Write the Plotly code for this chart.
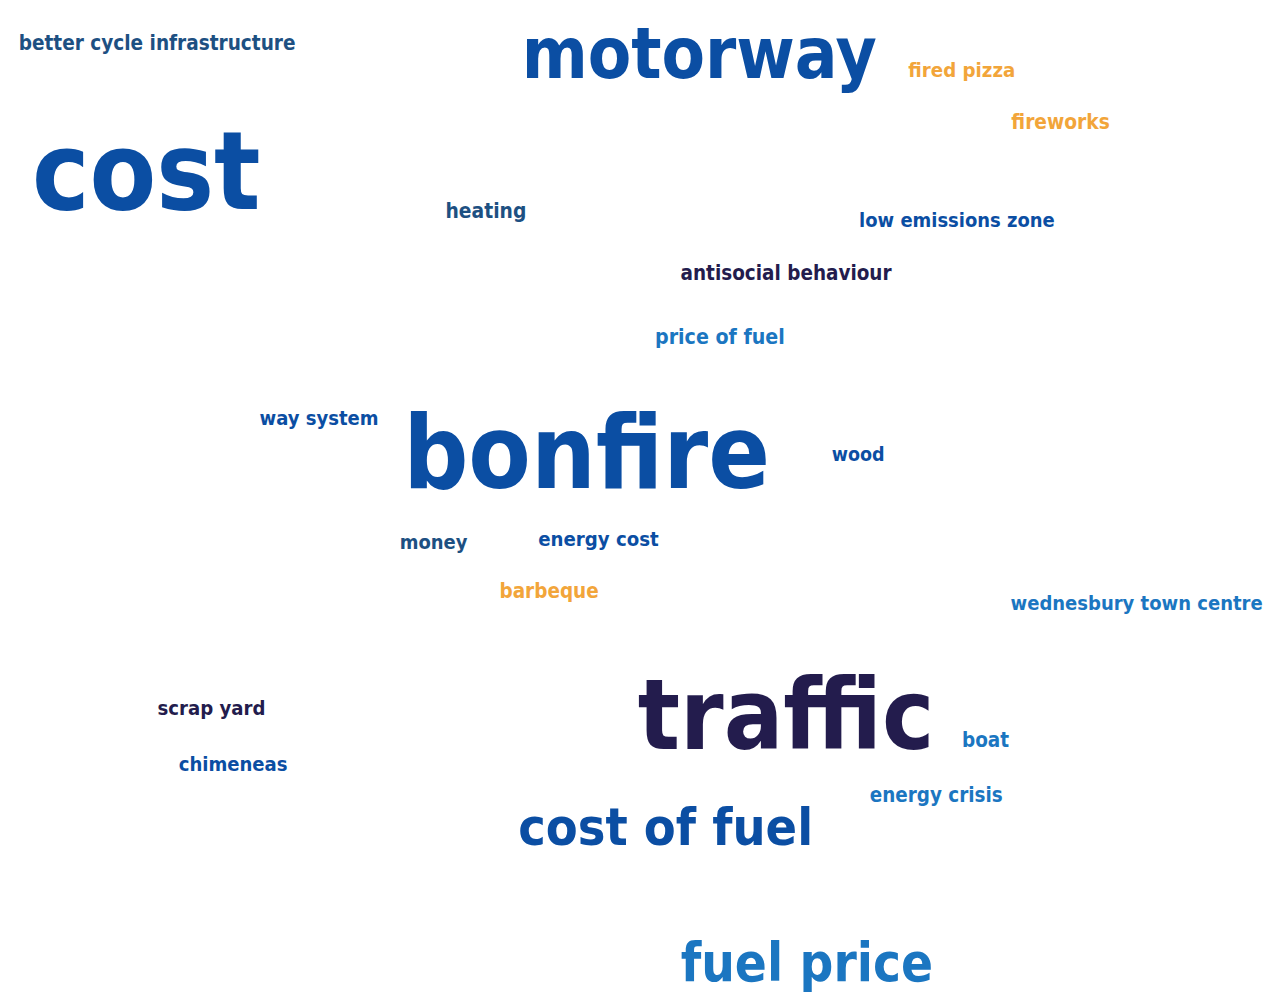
import plotly.graph_objects as go

# ---- data ----
words = [
    "better cycle infrastructure", "motorway", "fired pizza", "fireworks", "cost",
    "heating", "low emissions zone", "antisocial behaviour", "price of fuel",
    "way system", "bonfire", "wood", "money", "energy cost", "barbeque",
    "wednesbury town centre", "traffic", "scrap yard", "boat", "chimeneas",
    "energy crisis", "cost of fuel", "fuel price",
]
groups = [
    "teal", "royal", "orange", "orange", "royal",
    "teal", "royal", "navy", "medium",
    "royal", "royal", "royal", "teal", "royal", "orange",
    "medium", "navy", "navy", "medium", "royal",
    "medium", "royal", "medium",
]

# ---- layout (word-cloud placement: centre x, centre y, target width in px) ----
cx = [151, 700, 966, 1066, 140, 484, 961, 788, 721, 315, 586, 861, 431, 598, 548,
      1143, 788, 206, 990, 228, 940, 666, 809]
cy = [37, 53, 65, 118, 177, 208, 217, 271, 336, 419, 462, 455, 545, 542, 594,
      607, 728, 713, 746, 770, 802, 837, 975]
box_w = [264, 346, 103, 96, 231, 77, 195, 206, 125, 117, 357, 53, 67, 118, 96,
         244, 284, 106, 45, 108, 131, 287, 243]

palette = {
    "teal": "#1d5082",
    "navy": "#231c4d",
    "royal": "#0b4ea3",
    "medium": "#1b76c1",
    "orange": "#f2a53a",
}

# approximate advance widths (per 1000 em) of a bold sans
cw = dict(a=556, b=611, c=556, d=611, e=556, f=333, g=611, h=611, i=278, j=278,
          k=556, l=278, m=889, n=611, o=611, p=611, q=611, r=389, s=556, t=333,
          u=611, v=556, w=778, x=556, y=556, z=500)
cw[" "] = 278
SCALE = 1.04  # width factor for DejaVu Sans Condensed Bold


def fit_size(word, width):
    em = sum(cw.get(ch, 556) for ch in word) / 1000.0 * SCALE
    return width / em


sizes = [fit_size(w, bw) for w, bw in zip(words, box_w)]
colors = [palette[g] for g in groups]

fig = go.Figure(
    go.Scatter(
        x=cx, y=cy, text=words, mode="text",
        textposition="middle center",
        textfont=dict(family="DejaVu Sans Condensed, DejaVu Sans, sans-serif",
                      size=sizes, color=colors, weight="bold"),
        hoverinfo="text",
    )
)
fig.update_layout(
    margin=dict(l=0, r=0, t=0, b=0),
    paper_bgcolor="white", plot_bgcolor="white",
    showlegend=False,
    xaxis=dict(range=[0, 1272], visible=False, fixedrange=True),
    yaxis=dict(range=[1002, 0], visible=False, fixedrange=True),
)
fig.write_html("out.html")
